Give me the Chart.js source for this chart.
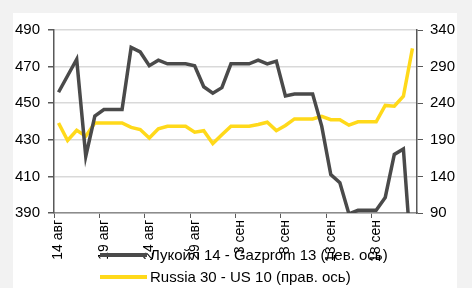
<!DOCTYPE html>
<html>
<head>
<meta charset="utf-8">
<script src="https://cdn.jsdelivr.net/npm/chart.js@4/dist/chart.umd.min.js"></script>
<style>
  html, body { margin: 0; padding: 0; background: #f2f2f2; }
  #wrap { position: absolute; left: 13px; top: 13px; width: 444px; height: 275px; background: #fff; }
</style>
</head>
<body>
<div id="wrap"><canvas id="lineChart" width="444" height="275"></canvas></div>
<script>
var days = ["14 авг","15 авг","16 авг","17 авг","18 авг","19 авг","20 авг","21 авг","22 авг","23 авг",
            "24 авг","25 авг","26 авг","27 авг","28 авг","29 авг","30 авг","31 авг","1 сен","2 сен",
            "3 сен","4 сен","5 сен","6 сен","7 сен","8 сен","9 сен","10 сен","11 сен","12 сен",
            "13 сен","14 сен","15 сен","16 сен","17 сен","18 сен","19 сен","20 сен","21 сен","22 сен"];

// Лукойл 14 - Gazprom 13, bp (left axis)
var spreadLukoil = [456, 465, 474, 421, 443, 446.5, 446.5, 446.5, 480.5, 478,
                    470.5, 473.5, 471.5, 471.5, 471.5, 470.5, 459, 455.5, 458.5, 471.5,
                    471.5, 471.5, 473.5, 471.5, 473, 454, 455, 455, 455, 437.5,
                    411, 406.5, 389.5, 391.5, 391.5, 391.5, 398.5, 422, 425, 357];
// Russia 30 - US 10, bp (right axis)
var spreadRussia = [213, 189, 203, 195, 213, 213, 213, 213, 207, 204,
                    192.5, 205, 208.5, 208.5, 208.5, 200.5, 202.5, 185, 197, 208.5,
                    208.5, 208.5, 211, 214, 202.5, 209.5, 218.5, 218.5, 218.5, 222,
                    217.5, 217.5, 210, 214.5, 214.5, 214.5, 237, 236, 249.5, 315];

var leftTicks = [390, 490, 20];
var rightTicks = [90, 340, 50];

var grey = "#4a4a4a";
var yellow = "#ffd91a";
var font = { family: "'Liberation Sans', Arial, sans-serif", size: 15 };

// legend drawn by hand so it can sit over the date labels like the original
var legendPlugin = {
  id: 'manualLegend',
  afterDraw: function(chart) {
    var c = chart.ctx;
    var ds = chart.data.datasets;
    c.save();
    c.font = "15px 'Liberation Sans', Arial, sans-serif";
    c.textBaseline = 'middle';
    for (var i = 0; i < ds.length; i++) {
      var y = 242 + i * 22;
      c.strokeStyle = ds[i].borderColor;
      c.lineWidth = 4;
      c.beginPath();
      c.moveTo(87, y);
      c.lineTo(134, y);
      c.stroke();
      c.fillStyle = '#000';
      c.fillText(ds[i].label, 137, y + 1);
    }
    c.restore();
  }
};

var ctx = document.getElementById("lineChart").getContext("2d");
var myLineChart = new Chart(ctx, {
  type: 'line',
  data: {
    labels: days,
    datasets: [{
      label: 'Лукойл 14 - Gazprom 13 (лев. ось)',
      data: spreadLukoil,
      borderColor: grey,
      borderWidth: 3.5,
      pointRadius: 0,
      tension: 0,
      yAxisID: 'y'
    }, {
      label: 'Russia 30 - US 10 (прав. ось)',
      data: spreadRussia,
      borderColor: yellow,
      borderWidth: 3.5,
      pointRadius: 0,
      tension: 0,
      yAxisID: 'y2'
    }]
  },
  options: {
    responsive: false,
    animation: false,
    layout: { padding: { top: 15, left: 0, right: 0, bottom: 0 } },
    plugins: { legend: { display: false }, tooltip: { enabled: false } },
    scales: {
      x: {
        offset: true,
        grid: {
          offset: true,
          drawOnChartArea: false,
          tickLength: 5,
          tickColor: function(context) {
            return context.index % 5 === 0 ? '#595959' : 'rgba(0,0,0,0)';
          }
        },
        border: { color: '#8c8c8c', width: 1.5 },
        ticks: {
          autoSkip: false,
          maxRotation: 90,
          minRotation: 90,
          padding: 2,
          color: '#000',
          font: { family: font.family, size: 14 },
          callback: function(value, index) {
            return index % 5 === 0 ? days[index] : '';
          }
        },
        afterFit: function(scale) { scale.height = 75; }
      },
      y: {
        position: 'left',
        min: leftTicks[0],
        max: leftTicks[1],
        ticks: { stepSize: leftTicks[2], color: '#000', font: font, padding: 8 },
        grid: { color: '#d9d9d9', lineWidth: 1.5, tickColor: '#595959', tickLength: 6 },
        border: { color: '#595959', width: 1.5 },
        afterFit: function(scale) { scale.width = 41; }
      },
      y2: {
        position: 'right',
        min: rightTicks[0],
        max: rightTicks[1],
        ticks: { stepSize: rightTicks[2], color: '#000', font: font, padding: 7 },
        grid: { drawOnChartArea: false, tickColor: '#595959', tickLength: 6 },
        border: { color: '#595959', width: 1.5 },
        afterFit: function(scale) { scale.width = 40; }
      }
    }
  },
  plugins: [legendPlugin]
});
</script>
</body>
</html>
